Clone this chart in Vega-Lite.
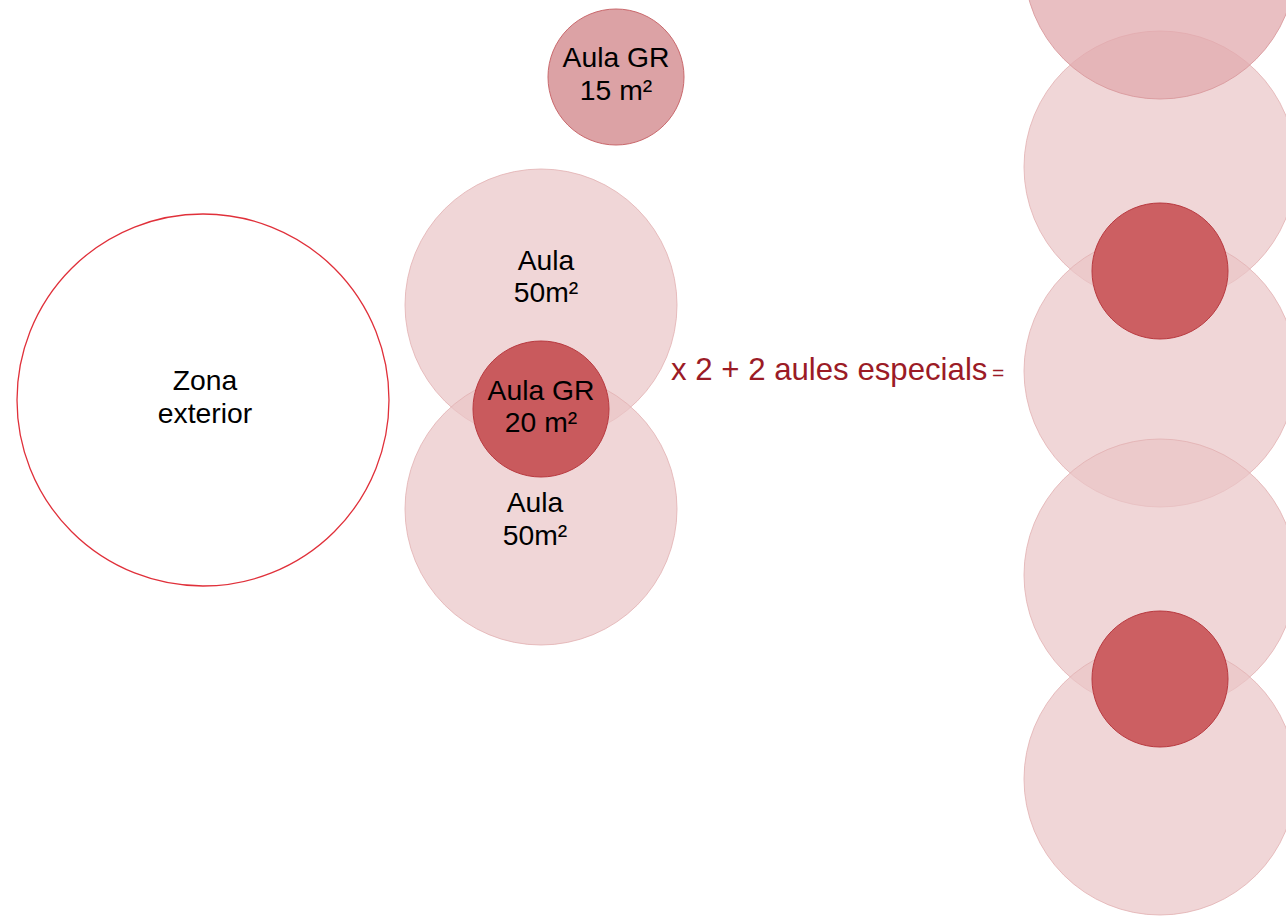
{
  "$schema": "https://vega.github.io/schema/vega-lite/v6.json",
  "width": 1286,
  "height": 916,
  "padding": 0,
  "autosize": {"type": "none"},
  "background": "white",
  "config": {"view": {"stroke": null}},
  "datasets": {
    "circles": [
      {"name": "Zona exterior", "cx": 203, "cy": 400, "d": 372, "fill": "#ffffff", "stroke": "#e0303a", "fo": 1, "so": 1, "sw": 1.3},
      {"name": "Aula 50 (a)", "cx": 541, "cy": 305, "d": 272, "fill": "#eac4c6", "stroke": "#e2b0b2", "fo": 0.7, "so": 0.8, "sw": 1},
      {"name": "Aula 50 (b)", "cx": 541, "cy": 509, "d": 272, "fill": "#eac4c6", "stroke": "#e2b0b2", "fo": 0.7, "so": 0.8, "sw": 1},
      {"name": "R2", "cx": 1160, "cy": 167, "d": 272, "fill": "#eac4c6", "stroke": "#e2b0b2", "fo": 0.7, "so": 0.8, "sw": 1},
      {"name": "R1", "cx": 1160, "cy": -37, "d": 272, "fill": "#e1aaad", "stroke": "#d99a9d", "fo": 0.75, "so": 0.9, "sw": 1},
      {"name": "R3", "cx": 1160, "cy": 371, "d": 272, "fill": "#eac4c6", "stroke": "#e2b0b2", "fo": 0.7, "so": 0.8, "sw": 1},
      {"name": "R4", "cx": 1160, "cy": 575, "d": 272, "fill": "#eac4c6", "stroke": "#e2b0b2", "fo": 0.7, "so": 0.8, "sw": 1},
      {"name": "R5", "cx": 1160, "cy": 779, "d": 272, "fill": "#eac4c6", "stroke": "#e2b0b2", "fo": 0.7, "so": 0.8, "sw": 1},
      {"name": "Aula GR 15", "cx": 616, "cy": 77, "d": 136, "fill": "#dca2a5", "stroke": "#c9686c", "fo": 1, "so": 1, "sw": 1},
      {"name": "Aula GR 20", "cx": 541, "cy": 409, "d": 136, "fill": "#c95a5d", "stroke": "#b8393f", "fo": 1, "so": 1, "sw": 1},
      {"name": "R GR a", "cx": 1160, "cy": 271, "d": 136, "fill": "#cc5f62", "stroke": "#b8393f", "fo": 1, "so": 1, "sw": 1},
      {"name": "R GR b", "cx": 1160, "cy": 679, "d": 136, "fill": "#cc5f62", "stroke": "#b8393f", "fo": 1, "so": 1, "sw": 1}
    ],
    "labels": [
      {"text": "Aula GR", "lx": 616, "ly": 67, "fs": 28.3, "col": "#000000", "al": "center"},
      {"text": "15 m²", "lx": 616, "ly": 100, "fs": 28.3, "col": "#000000", "al": "center"},
      {"text": "Aula", "lx": 546, "ly": 270, "fs": 28.3, "col": "#000000", "al": "center"},
      {"text": "50m²", "lx": 546, "ly": 302, "fs": 28.3, "col": "#000000", "al": "center"},
      {"text": "Aula GR", "lx": 541, "ly": 400, "fs": 28.3, "col": "#000000", "al": "center"},
      {"text": "20 m²", "lx": 541, "ly": 432, "fs": 28.3, "col": "#000000", "al": "center"},
      {"text": "Aula", "lx": 535, "ly": 512, "fs": 28.3, "col": "#000000", "al": "center"},
      {"text": "50m²", "lx": 535, "ly": 545, "fs": 28.3, "col": "#000000", "al": "center"},
      {"text": "Zona", "lx": 205, "ly": 390, "fs": 28.3, "col": "#000000", "al": "center"},
      {"text": "exterior", "lx": 205, "ly": 423, "fs": 28.3, "col": "#000000", "al": "center"},
      {"text": "x 2 + 2 aules especials", "lx": 671, "ly": 380, "fs": 31.2, "col": "#9b1b26", "al": "left"},
      {"text": "=", "lx": 992, "ly": 380, "fs": 21, "col": "#9b1b26", "al": "left"}
    ]
  },
  "layer": [
    {
      "data": {"name": "circles"},
      "mark": {"type": "circle", "clip": false},
      "encoding": {
        "x": {"field": "cx", "type": "quantitative", "scale": {"domain": [0, 1286], "nice": false, "zero": false}, "axis": null},
        "y": {"field": "cy", "type": "quantitative", "scale": {"domain": [0, 916], "nice": false, "zero": false, "reverse": true}, "axis": null},
        "size": {"field": "d", "type": "quantitative", "scale": {"type": "pow", "exponent": 2, "domain": [0, 1000], "range": [0, 1000000]}, "legend": null},
        "fill": {"field": "fill", "type": "nominal", "scale": null},
        "stroke": {"field": "stroke", "type": "nominal", "scale": null},
        "fillOpacity": {"field": "fo", "type": "quantitative", "scale": null},
        "strokeOpacity": {"field": "so", "type": "quantitative", "scale": null},
        "strokeWidth": {"field": "sw", "type": "quantitative", "scale": null},
        "opacity": {"value": 1}
      }
    },
    {
      "data": {"name": "labels"},
      "transform": [{"filter": "datum.al == 'center'"}],
      "mark": {"type": "text", "font": "Liberation Sans", "align": "center", "baseline": "alphabetic"},
      "encoding": {
        "x": {"field": "lx", "type": "quantitative", "axis": null},
        "y": {"field": "ly", "type": "quantitative", "axis": null},
        "text": {"field": "text", "type": "nominal"},
        "size": {"field": "fs", "type": "quantitative", "scale": null},
        "color": {"field": "col", "type": "nominal", "scale": null}
      }
    },
    {
      "data": {"name": "labels"},
      "transform": [{"filter": "datum.al == 'left'"}],
      "mark": {"type": "text", "font": "Liberation Sans", "align": "left", "baseline": "alphabetic"},
      "encoding": {
        "x": {"field": "lx", "type": "quantitative", "axis": null},
        "y": {"field": "ly", "type": "quantitative", "axis": null},
        "text": {"field": "text", "type": "nominal"},
        "size": {"field": "fs", "type": "quantitative", "scale": null},
        "color": {"field": "col", "type": "nominal", "scale": null}
      }
    }
  ],
  "resolve": {"scale": {"size": "independent"}}
}
